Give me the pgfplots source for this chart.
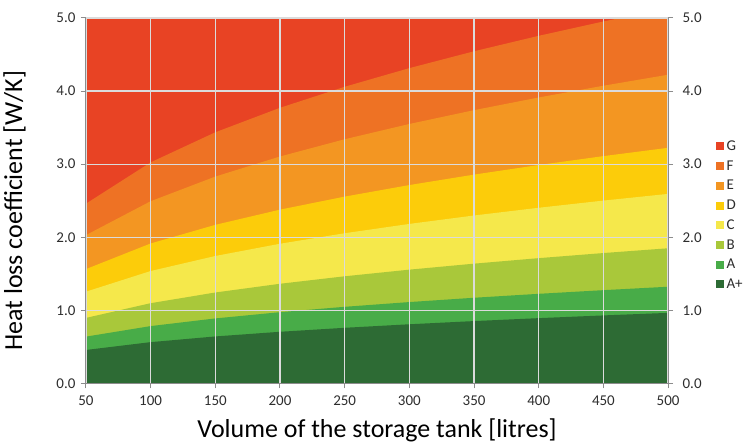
\documentclass[border=0pt]{standalone}
\usepackage{pgfplots}
\usepackage{pgfplotstable}
\pgfplotsset{compat=1.18}
\usepackage{fontspec}
\setmainfont{Carlito}
\definecolor{cG}{RGB}{232,67,36}
\definecolor{cF}{RGB}{238,114,36}
\definecolor{cE}{RGB}{243,150,34}
\definecolor{cD}{RGB}{252,204,10}
\definecolor{cC}{RGB}{245,232,75}
\definecolor{cB}{RGB}{169,200,58}
\definecolor{cA}{RGB}{72,172,72}
\definecolor{cAp}{RGB}{45,107,52}
\definecolor{axgray}{RGB}{140,140,140}
\definecolor{txt}{RGB}{45,45,45}
\pgfplotstableread{
x   Ap     A      B      C      D      E      F      G
50  0.4581 0.6406 0.8969 1.2555 1.5645 2.0295 2.4594 5.0
100 0.5653 0.7848 1.0981 1.5382 1.9151 2.4931 3.0248 5.0
150 0.6433 0.8897 1.2445 1.7439 2.1701 2.8304 3.4362 5.0
200 0.7069 0.9752 1.3638 1.9114 2.3779 3.1051 3.7712 5.0
250 0.7615 1.0486 1.4662 2.0553 2.5563 3.3410 4.0590 5.0
300 0.8098 1.1136 1.5570 2.1827 2.7143 3.5500 4.3139 5.0
350 0.8535 1.1725 1.6390 2.2980 2.8573 3.7391 4.5445 5.0
400 0.8937 1.2264 1.7144 2.4038 2.9885 3.9126 4.7561 5.0
450 0.9309 1.2765 1.7842 2.5019 3.1102 4.0734 4.9523 5.0
500 0.9657 1.3233 1.8495 2.5936 3.2239 4.2239 5.1358 5.0
}\data
\begin{document}
\begin{tikzpicture}
\begin{axis}[
  scale only axis, width=583pt, height=366pt,
  xmin=50, xmax=500, ymin=0, ymax=5,
  xtick={50,100,...,500}, ytick={0,1,...,5},
  axis on top,
  axis x line*=bottom, axis y line*=left,
  axis line style={axgray, line width=1pt, -},
  tick style={axgray, line width=1pt},
  tick align=outside, major tick length=5pt,
  grid=major, major grid style={white!86!black, line width=1.3pt},
  ticklabel style={font=\fontsize{15}{17}\selectfont, text=txt},
  xticklabel style={yshift=-4pt},
  yticklabel style={xshift=-2pt, /pgf/number format/.cd, fixed, fixed zerofill, precision=1},
  /pgf/number format/assume math mode=true,
  xlabel={Volume of the storage tank [litres]},
  ylabel={Heat loss coefficient [W/K]},
  label style={font=\fontsize{26}{28}\selectfont, text=black},
  xlabel style={yshift=-6pt},
  ylabel style={yshift=24pt, xshift=-10pt},
  legend style={at={(1.082,0.670)}, anchor=north west, draw=none, fill=none,
    font=\fontsize{15}{17}\selectfont, text=txt, row sep=4.6pt,
    inner sep=0pt, nodes={inner xsep=2.5pt}},
  legend cell align=left,
  legend image code/.code={\fill[#1] (0pt,-4pt) rectangle (8pt,4pt);},
]
\addplot[fill=cG, draw=none] table[y=G] {\data} \closedcycle;
\addplot[fill=cF, draw=none] table[y=F] {\data} \closedcycle;
\addplot[fill=cE, draw=none] table[y=E] {\data} \closedcycle;
\addplot[fill=cD, draw=none] table[y=D] {\data} \closedcycle;
\addplot[fill=cC, draw=none] table[y=C] {\data} \closedcycle;
\addplot[fill=cB, draw=none] table[y=B] {\data} \closedcycle;
\addplot[fill=cA, draw=none] table[y=A] {\data} \closedcycle;
\addplot[fill=cAp, draw=none] table[y=Ap] {\data} \closedcycle;
\legend{G,F,E,D,C,B,A,A+}
\coordinate (o) at (rel axis cs:0,0);
\end{axis}
\begin{axis}[
  scale only axis, width=583pt, height=366pt,
  xmin=50, xmax=500, ymin=0, ymax=5,
  ytick={0,1,...,5},
  axis x line=none, axis y line*=right,
  axis line style={axgray, line width=1pt, -},
  tick style={axgray, line width=1pt},
  tick align=outside, major tick length=5pt,
  ticklabel style={font=\fontsize{15}{17}\selectfont, text=txt},
  yticklabel style={xshift=6pt, /pgf/number format/.cd, fixed, fixed zerofill, precision=1},
  /pgf/number format/assume math mode=true,
]
\addplot[draw=none] coordinates {(50,0)};
\end{axis}
\path (o) ++(-85pt,-60pt) rectangle ++(754pt,444pt);
\end{tikzpicture}
\end{document}
